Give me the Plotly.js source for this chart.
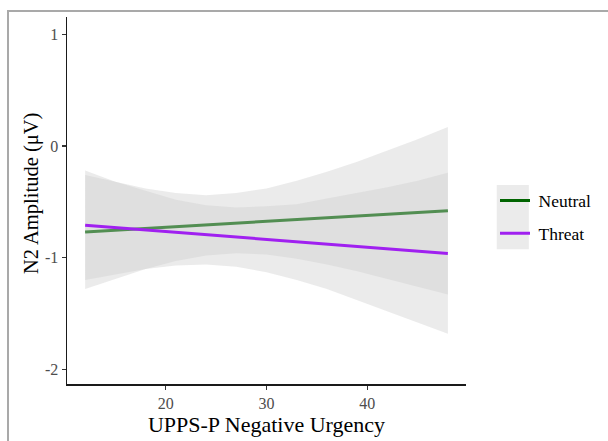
<!DOCTYPE html>
<html>
<head>
<meta charset="utf-8">
<script src="https://cdn.plot.ly/plotly-3.0.1.min.js"></script>
<style>
  html, body { margin: 0; padding: 0; background: #ffffff; }
  #wrap { position: relative; width: 608px; height: 441px; overflow: hidden; }
  #chart { position: absolute; left: 0; top: 0; width: 608px; height: 441px; }
  #frame {
    position: absolute; left: 7px; top: 10px; width: 640px; height: 460px;
    border-top: 2px solid #a9a9a9; border-left: 2px solid #a9a9a9;
    pointer-events: none;
  }
</style>
</head>
<body>
<div id="wrap">
  <div id="chart"></div>
  <div id="frame"></div>
</div>
<script>
// UPPS-P Negative Urgency scores at which the fitted lines are evaluated
const urgency = [12, 15, 18, 21, 24, 27, 30, 33, 36, 39, 42, 45, 48];

// Neutral condition: fitted N2 amplitude and its confidence band (µV)
const neutralFit   = [-0.769, -0.753, -0.738, -0.722, -0.706, -0.690, -0.675, -0.659, -0.643, -0.627, -0.612, -0.596, -0.580];
const neutralUpper = [-0.26, -0.32, -0.38, -0.42, -0.44, -0.42, -0.38, -0.31, -0.23, -0.14, -0.04, 0.06, 0.17];
const neutralLower = [-1.28, -1.19, -1.10, -1.03, -0.98, -0.96, -0.97, -1.01, -1.06, -1.12, -1.19, -1.26, -1.33];

// Threat condition: fitted N2 amplitude and its confidence band (µV)
const threatFit   = [-0.709, -0.730, -0.751, -0.773, -0.794, -0.815, -0.836, -0.857, -0.878, -0.900, -0.921, -0.942, -0.963];
const threatUpper = [-0.22, -0.32, -0.40, -0.48, -0.53, -0.55, -0.54, -0.52, -0.47, -0.42, -0.37, -0.31, -0.24];
const threatLower = [-1.20, -1.15, -1.10, -1.07, -1.06, -1.08, -1.13, -1.20, -1.28, -1.38, -1.48, -1.58, -1.68];

const conditions = ['Neutral', 'Threat'];
const xTicks = [20, 30, 40];
const yTicks = [-2, -1, 0, 1];

const serif = '"Liberation Serif", "Times New Roman", Times, serif';
const bandFill = 'rgba(204,204,204,0.4)';

function band(upper, lower, group) {
  return {
    type: 'scatter', mode: 'lines',
    x: urgency.concat(urgency.slice().reverse()),
    y: upper.concat(lower.slice().reverse()),
    fill: 'toself', fillcolor: bandFill,
    line: { width: 0, color: bandFill },
    legendgroup: group, showlegend: false, hoverinfo: 'skip'
  };
}

function fitLine(values, name, color) {
  return {
    type: 'scatter', mode: 'lines',
    name: '\u2009' + name,
    x: urgency, y: values,
    line: { color: color, width: 3 },
    legendgroup: name, hoverinfo: 'skip'
  };
}

// Each band is drawn right before its own line, so the Threat band
// veils the Neutral line while the Threat line stays on top.
const traces = [
  band(neutralUpper, neutralLower, conditions[0]),
  fitLine(neutralFit, conditions[0], '#006400'),
  band(threatUpper, threatLower, conditions[1]),
  fitLine(threatFit, conditions[1], '#A020F0')
];

const axisCommon = {
  showline: true, linecolor: '#1a1a1a', linewidth: 1.5,
  showgrid: false, zeroline: false,
  ticks: 'outside', ticklen: 4, tickwidth: 1.3, tickcolor: '#333333',
  tickfont: { family: serif, size: 16, color: '#4d4d4d' }
};

const layout = {
  width: 608, height: 441,
  paper_bgcolor: '#ffffff', plot_bgcolor: '#ffffff',
  margin: { l: 67, r: 141, t: 17, b: 57 },
  font: { family: serif },
  xaxis: Object.assign({}, axisCommon, {
    range: [10.2, 49.8],
    tickvals: xTicks, ticktext: xTicks.map(String),
    title: { text: 'UPPS-P Negative Urgency', font: { family: serif, size: 22, color: '#000000' }, standoff: 3 }
  }),
  yaxis: Object.assign({}, axisCommon, {
    range: [-2.13, 1.155],
    tickvals: yTicks, ticktext: yTicks.map(String)
  }),
  annotations: [{
    text: 'N2 Amplitude (μV)', textangle: -90,
    xref: 'paper', yref: 'paper', x: -0.0875, y: 0.518,
    xanchor: 'center', yanchor: 'middle', showarrow: false,
    font: { family: serif, size: 20.5, color: '#000000' }
  }],
  showlegend: true,
  legend: {
    x: 1.07, xanchor: 'left', y: 0.455, yanchor: 'middle',
    bgcolor: 'rgba(0,0,0,0)', borderwidth: 0,
    traceorder: 'grouped', tracegroupgap: 7,
    font: { family: serif, size: 17.5, color: '#000000' }
  },
  shapes: [{
    type: 'rect', xref: 'paper', yref: 'paper', layer: 'below',
    x0: 1.077, x1: 1.1575, y0: 0.367, y1: 0.542,
    fillcolor: '#ebebeb', line: { width: 0 }
  }]
};

Plotly.newPlot('chart', traces, layout, { staticPlot: true, displayModeBar: false });
</script>
</body>
</html>
